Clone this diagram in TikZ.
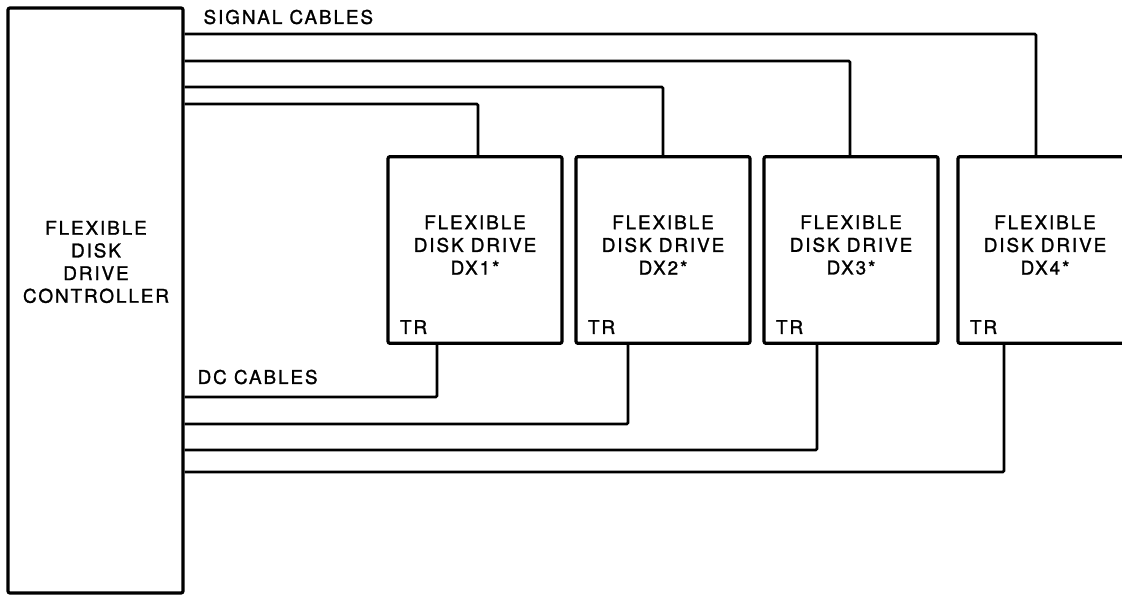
\documentclass[tikz,border=0pt]{standalone}
\usepackage{fontspec}
\setmainfont{TeX Gyre Heros}[LetterSpace=10, FakeBold=1.3]
\begin{document}
\begin{tikzpicture}[x=0.75pt, y=-0.75pt,
    font=\fontsize{14.2}{17}\selectfont,
    every node/.style={align=center, inner sep=1pt},
    box/.style={draw, line width=2.4pt, rounded corners=1.5pt, inner sep=0pt},
    drive/.style={box, minimum width=130.5pt, minimum height=140pt},
    cable/.style={line width=2pt, rounded corners=1pt}]
  \useasboundingbox (0,0) rectangle (1122,595);

  % Controller box
  \node[box, minimum width=131.25pt, minimum height=438.75pt] (ctrl) at (95.5,300.5) {};
  \node (ctrl-name) at (96,262) {FLEXIBLE\\DISK\\DRIVE\\CONTROLLER};

  % Drive boxes
  \foreach \i/\x in {1/475, 2/663, 3/851, 4/1045} {
    \node[drive] (dx\i) at (\x,250) {};
    \node (dx\i-name) at (\x,245) {FLEXIBLE\\DISK DRIVE\\DX\i*};
    \node[anchor=south west] (dx\i-tr) at ([xshift=9pt, yshift=7pt]dx\i.south west) {TR};
  }

  % Cable labels
  \node[anchor=west] (sig) at (202,17) {SIGNAL CABLES};
  \node[anchor=west] (dc) at (196,377) {DC CABLES};

  % Signal and DC cables
  \foreach \i/\ys/\xs/\yd/\xd in {1/104/478/397/437, 2/87/663/424/628, 3/61/850/450/817, 4/34/1036/472/1004} {
    \draw[cable] (ctrl.east |- 0,\ys) -| (dx\i.north -| \xs,0);
    \draw[cable] (ctrl.east |- 0,\yd) -| (dx\i.south -| \xd,0);
  }
\end{tikzpicture}
\end{document}
